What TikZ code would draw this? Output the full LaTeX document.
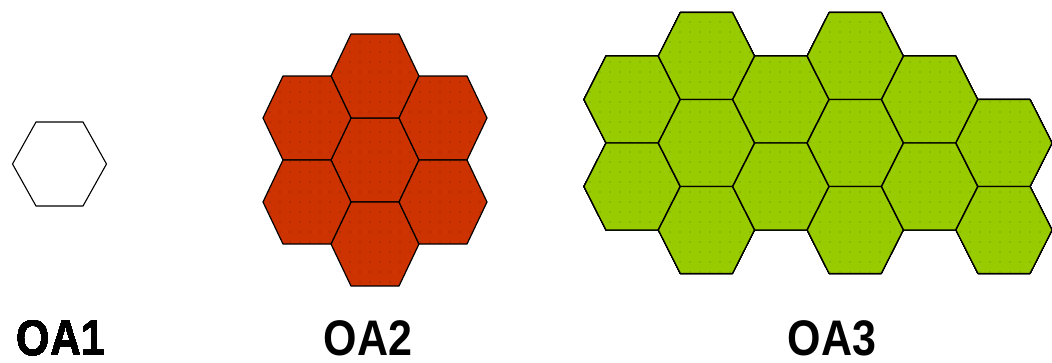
\documentclass[tikz,border=0pt]{standalone}
\usepackage{fontspec}
\setmainfont{Liberation Sans}
\usepackage{graphicx}
\usepackage{tikz}
\usetikzlibrary{patterns, patterns.meta}
\usepackage{xcolor}
\definecolor{EmberRed}{HTML}{CC3300}
\definecolor{EmberDot}{HTML}{7A1E00}
\definecolor{LimeGreen}{HTML}{99CC00}
\definecolor{LimeDot}{HTML}{5E7D00}
\newcommand{\LabelFont}{\bfseries\fontsize{50pt}{50pt}\selectfont}
% cell outline: style, centre x, centre y, outer reach, half top edge, half height
\newcommand{\HexCell}[6]{%
  \path[#1] (#2-#4,#3) -- (#2-#5,#3-#6) -- (#2+#5,#3-#6)
    -- (#2+#4,#3) -- (#2+#5,#3+#6) -- (#2-#5,#3+#6) -- cycle;}

\begin{document}
\begin{tikzpicture}[x=1pt, y=-1pt,
  emptycell/.style={draw=black, fill=white, line width=1.1pt},
  redcell/.style={preaction={fill=EmberRed}, pattern={Dots[distance=10pt, radius=0.6pt]},
    pattern color=EmberDot, draw=black, line width=1.2pt, line join=round},
  greencell/.style={preaction={fill=LimeGreen}, pattern={Dots[distance=10pt, radius=0.6pt]},
    pattern color=LimeDot, draw=black, line width=1.2pt, line join=round},
  tag/.style={font=\LabelFont, anchor=base, inner sep=0pt}]
  \useasboundingbox (0,0) rectangle (1052,362);
  % single cell
  \HexCell{emptycell}{59.5}{164}{47}{23.5}{42}
  % flower of seven
  \foreach \cx/\cy in {375/160, 375/76, 375/244, 307/118, 443/118, 307/202, 443/202}
    \HexCell{redcell}{\cx}{\cy}{44}{24}{42}
  % wide strip
  \foreach \col/\cy in {0/99.5, 0/186.5, 1/56, 1/143, 1/230, 2/99.5, 2/186.5,
      3/56, 3/143, 3/230, 4/99.5, 4/186.5, 5/143, 5/230}
    \HexCell{greencell}{632+74.4*\col}{\cy}{48}{26}{43.5}
  % names
  \node[tag] (oa1) at (61,355) {\scalebox{0.86}[1]{OA1}};
  \node[tag] (oa2) at (368,355) {\scalebox{0.86}[1]{OA2}};
  \node[tag] (oa3) at (832,355) {\scalebox{0.86}[1]{OA3}};
\end{tikzpicture}
\end{document}
